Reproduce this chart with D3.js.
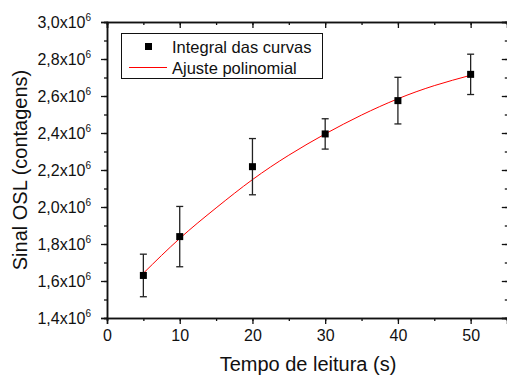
<!DOCTYPE html>
<html>
<head>
<meta charset="utf-8">
<script src="https://cdn.jsdelivr.net/npm/d3@7"></script>
<style>
  body { margin: 0; background: #fff; }
  svg { display: block; font-family: "Liberation Sans", Arial, sans-serif; }
</style>
</head>
<body>
<div id="chart"></div>
<script>
// measured points (tempo de leitura, s)
const tempo = [5, 10, 20, 30, 40, 50];
const sinal = [1.630e6, 1.840e6, 2.218e6, 2.395e6, 2.575e6, 2.717e6];
const erro = [0.115e6, 0.163e6, 0.152e6, 0.082e6, 0.126e6, 0.109e6];

// fitted polynomial
const ajusteX = [5, 10, 15, 20, 25, 30, 35, 40, 45, 50];
const ajusteY = [1.642e6, 1.830e6, 1.995e6, 2.148e6, 2.280e6, 2.395e6, 2.497e6, 2.585e6, 2.656e6, 2.712e6];

const yTicks = [1.4e6, 1.6e6, 1.8e6, 2.0e6, 2.2e6, 2.4e6, 2.6e6, 2.8e6, 3.0e6];
const xTicks = [0, 10, 20, 30, 40, 50];

const width = 507, height = 376;
const margin = { top: 22, right: 0, bottom: 58, left: 107 };

const svg = d3.select("#chart")
  .append("svg")
  .attr("width", width)
  .attr("height", height);

svg.append("rect").attr("width", width).attr("height", height).attr("fill", "#fff");

const x = d3.scaleLinear().domain([0, 55]).range([margin.left, width - margin.right]);
const y = d3.scaleLinear().domain([1.4e6, 3.0e6]).range([height - margin.bottom, margin.top]);

const minorX = d3.range(0, 56, 5);
const minorY = d3.range(1.4e6, 3.0e6 + 1, 0.1e6);

// axes: bottom/left ticks out, top/right ticks in
function frameAxis(axis, cls, transform) {
  const g = svg.append("g").attr("class", cls).attr("transform", transform).call(axis);
  g.select(".domain").attr("stroke", "#111").attr("stroke-width", 1.5);
  g.selectAll("line").attr("stroke", "#111").attr("stroke-width", 1.3);
  return g;
}

frameAxis(d3.axisBottom(x).tickValues(minorX).tickSize(3).tickFormat(""), "xminor",
  `translate(0,${y.range()[0]})`);
frameAxis(d3.axisTop(x).tickValues(minorX).tickSize(-3).tickFormat(""), "xminor-top",
  `translate(0,${y.range()[1]})`);
frameAxis(d3.axisLeft(y).tickValues(minorY).tickSize(3).tickFormat(""), "yminor",
  `translate(${x.range()[0]},0)`);
frameAxis(d3.axisRight(y).tickValues(minorY).tickSize(-3).tickFormat(""), "yminor-right",
  `translate(${x.range()[1] + 0.8},0)`);

const xAxis = frameAxis(d3.axisBottom(x).tickValues(xTicks).tickSize(6).tickPadding(6), "xaxis",
  `translate(0,${y.range()[0]})`);
xAxis.selectAll("text").attr("font-size", 16).attr("fill", "#111");

frameAxis(d3.axisTop(x).tickValues(xTicks).tickSize(-6).tickFormat(""), "xaxis-top",
  `translate(0,${y.range()[1]})`);
frameAxis(d3.axisRight(y).tickValues(yTicks).tickSize(-6).tickFormat(""), "yaxis-right",
  `translate(${x.range()[1] + 0.8},0)`);

const yAxis = frameAxis(d3.axisLeft(y).tickValues(yTicks).tickSize(6).tickPadding(10), "yaxis",
  `translate(${x.range()[0]},0)`);
yAxis.selectAll(".tick text")
  .attr("font-size", 16)
  .attr("fill", "#111")
  .attr("dy", "0.36em")
  .text(null)
  .each(function(d) {
    const t = d3.select(this);
    t.append("tspan").text(d3.format(".1f")(d / 1e6).replace(".", ",") + "x10");
    t.append("tspan").attr("font-size", 10).attr("dy", "-0.75em").text("6");
  });

// fitted curve
const line = d3.line()
  .x((d, i) => x(ajusteX[i]))
  .y(d => y(d))
  .curve(d3.curveNatural);

svg.append("path")
  .datum(ajusteY)
  .attr("d", line)
  .attr("fill", "none")
  .attr("stroke", "#ff0000")
  .attr("stroke-width", 1);

// error bars
const bars = svg.append("g").attr("class", "errorbars")
  .attr("stroke", "#222").attr("stroke-width", 1.3);

tempo.forEach((t, i) => {
  const cx = x(t), top = y(sinal[i] + erro[i]), bot = y(sinal[i] - erro[i]);
  bars.append("line").attr("x1", cx).attr("x2", cx).attr("y1", top).attr("y2", bot);
  bars.append("line").attr("x1", cx - 3.5).attr("x2", cx + 3.5).attr("y1", top).attr("y2", top);
  bars.append("line").attr("x1", cx - 3.5).attr("x2", cx + 3.5).attr("y1", bot).attr("y2", bot);
});

// points
svg.append("g").selectAll("rect")
  .data(tempo)
  .join("rect")
  .attr("x", d => x(d) - 3.5)
  .attr("y", (d, i) => y(sinal[i]) - 3.5)
  .attr("width", 7)
  .attr("height", 7)
  .attr("fill", "#000");

// axis titles
svg.append("text")
  .attr("x", (x.range()[0] + 507) / 2 + 1)
  .attr("y", 371)
  .attr("text-anchor", "middle")
  .attr("font-size", 20)
  .attr("fill", "#111")
  .text("Tempo de leitura (s)");

svg.append("text")
  .attr("transform", `translate(27,${(y.range()[0] + y.range()[1]) / 2}) rotate(-90)`)
  .attr("text-anchor", "middle")
  .attr("font-size", 20)
  .attr("fill", "#111")
  .text("Sinal OSL (contagens)");

// legend
const legend = svg.append("g").attr("class", "legend");
legend.append("rect")
  .attr("x", 121.5).attr("y", 33.5)
  .attr("width", 201).attr("height", 45)
  .attr("fill", "#fff").attr("stroke", "#111").attr("stroke-width", 1);
legend.append("rect")
  .attr("x", 145).attr("y", 43).attr("width", 7).attr("height", 7).attr("fill", "#000");
legend.append("line")
  .attr("x1", 129).attr("x2", 167).attr("y1", 67.5).attr("y2", 67.5)
  .attr("stroke", "#ff0000").attr("stroke-width", 1);
legend.append("text")
  .attr("x", 172).attr("y", 53)
  .attr("font-size", 16.5).attr("fill", "#111")
  .text("Integral das curvas");
legend.append("text")
  .attr("x", 172).attr("y", 74)
  .attr("font-size", 16.5).attr("fill", "#111")
  .text("Ajuste polinomial");
</script>
</body>
</html>
